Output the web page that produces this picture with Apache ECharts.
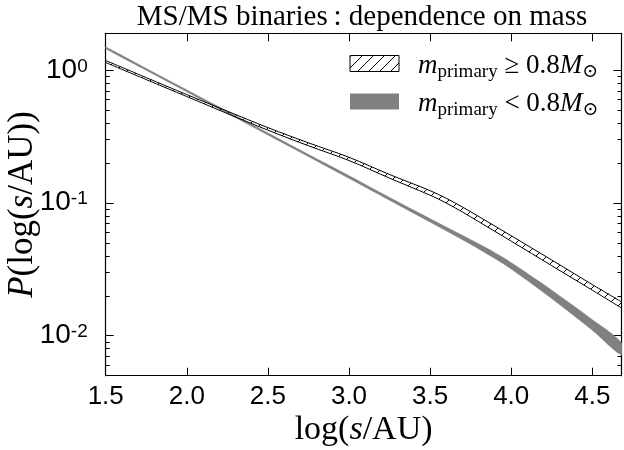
<!DOCTYPE html>
<html>
<head>
<meta charset="utf-8">
<script src="https://cdn.jsdelivr.net/npm/echarts@6/dist/echarts.min.js"></script>
<style>
  html, body { margin: 0; padding: 0; background: #fff; }
  #chart { width: 624px; height: 450px; }
</style>
</head>
<body>
<div id="chart"></div>
<script>
// log10(s/AU) sample points and band edges of P(log s)
// Primaries of 0.8 Msun and above (hatched band)
const xHigh     = [1.5, 1.75, 2.0, 2.25, 2.5, 2.75, 3.0, 3.25, 3.5, 3.6, 3.7, 3.8, 4.0, 4.25, 4.5, 4.68];
const highLower = [1.145, 0.851, 0.634, 0.472, 0.354, 0.270, 0.209, 0.154, 0.1145, 0.0999, 0.0855, 0.0723, 0.0516, 0.0337, 0.02205, 0.01618];
const highUpper = [1.185, 0.881, 0.656, 0.492, 0.370, 0.284, 0.221, 0.164, 0.1239, 0.1085, 0.0932, 0.0791, 0.0567, 0.0372, 0.0243, 0.0180];

// Primaries below 0.8 Msun (grey band)
const xLow     = [1.5, 1.75, 2.0, 2.25, 2.5, 2.75, 3.0, 3.25, 3.5, 3.75, 3.85, 3.95, 4.05, 4.15, 4.25, 4.5, 4.68];
const lowLower = [1.458, 1.002, 0.689, 0.474, 0.326, 0.224, 0.1535, 0.105, 0.0719, 0.0489, 0.04149, 0.03498, 0.02885, 0.02352, 0.01908, 0.01102, 0.00718];
const lowUpper = [1.500, 1.031, 0.711, 0.490, 0.337, 0.232, 0.1605, 0.110, 0.0761, 0.0529, 0.04571, 0.03878, 0.03235, 0.02672, 0.02199, 0.01319, 0.00883];

// Axis ranges and ticks
const xRange = [1.5, 4.68];
const yRange = [0.005, 1.9];
const xTickValues = [1.5, 2.0, 2.5, 3.0, 3.5, 4.0, 4.5];
const yMajorTicks = [0.01, 0.1, 1];
const yMinorTicks = [0.006, 0.007, 0.008, 0.009,
                     0.02, 0.03, 0.04, 0.05, 0.06, 0.07, 0.08, 0.09,
                     0.2, 0.3, 0.4, 0.5, 0.6, 0.7, 0.8, 0.9];

const titleText = 'MS/MS binaries\u2009: dependence on mass';
const legendLabels = [
  '{i|m}{sub|primary}{r| \u2265 0.8}{i|M}{sub|\u2299}',
  '{i|m}{sub|primary}{r| < 0.8}{i|M}{sub|\u2299}'
];

const SERIF = '"Liberation Serif", "DejaVu Serif", serif';
const SANS = '"Liberation Sans", Arial, sans-serif';
const GREY = '#808080';
const CURVE_SMOOTH = 0.35;

// Diagonal "////" hatch tile
function hatchTile(size) {
  const c = document.createElement('canvas');
  c.width = size; c.height = size;
  const ctx = c.getContext('2d');
  ctx.strokeStyle = '#000';
  ctx.lineWidth = 1;
  ctx.beginPath();
  ctx.moveTo(0, size); ctx.lineTo(size, 0);
  ctx.moveTo(-2, 2); ctx.lineTo(2, -2);
  ctx.moveTo(size - 2, size + 2); ctx.lineTo(size + 2, size - 2);
  ctx.stroke();
  return c;
}
const hatch = { image: hatchTile(11), repeat: 'repeat' };

function bandSeries(name, xs, lo, hi, fill, edge) {
  return {
    type: 'custom',
    name: name,
    coordinateSystem: 'cartesian2d',
    xAxisIndex: 0,
    yAxisIndex: 0,
    clip: true,
    silent: true,
    data: xs.map((x, i) => [x, lo[i], hi[i]]),
    encode: { x: 0, y: [1, 2] },
    renderItem: function (params, api) {
      if (params.dataIndex !== 0) return null;
      const top = xs.map((x, i) => api.coord([x, hi[i]]));
      const bot = xs.map((x, i) => api.coord([x, lo[i]]));
      const children = [{
        type: 'polygon',
        shape: { points: top.concat(bot.slice().reverse()), smooth: CURVE_SMOOTH },
        style: edge ? { fill: fill } : { fill: fill, stroke: fill, lineWidth: 0.6 }
      }];
      if (edge) {
        children.push({ type: 'polyline', shape: { points: top, smooth: CURVE_SMOOTH },
                        style: { fill: null, stroke: edge, lineWidth: 1 } });
        children.push({ type: 'polyline', shape: { points: bot, smooth: CURVE_SMOOTH },
                        style: { fill: null, stroke: edge, lineWidth: 1 } });
      }
      return { type: 'group', children: children };
    }
  };
}

const frameLine = { show: true, lineStyle: { color: '#000', width: 1.2 } };

function yAxisDef(position, ticks, len, withLabels, withLine) {
  return {
    type: 'log',
    logBase: 10,
    position: position,
    min: yRange[0],
    max: yRange[1],
    splitLine: { show: false },
    axisLine: withLine ? frameLine : { show: false },
    axisTick: { show: true, inside: true, length: len, customValues: ticks,
                lineStyle: { color: '#000', width: 1 } },
    minorTick: { show: false },
    axisLabel: withLabels ? {
      show: true,
      customValues: ticks,
      margin: 18,
      formatter: function (v) {
        const n = Math.round(Math.log10(v));
        return '{b|10}{s|' + n + '}';
      },
      rich: {
        b: { fontFamily: SANS, fontSize: 28, color: '#000', lineHeight: 27, verticalAlign: 'bottom' },
        s: { fontFamily: SANS, fontSize: 19, color: '#000', lineHeight: 19, padding: [0, 0, 15, 0], verticalAlign: 'top' }
      }
    } : { show: false },
    name: withLabels ? '{i|P}{r|(log(}{i|s}{r|/AU))}' : '',
    nameLocation: 'middle',
    nameRotate: 90,
    nameGap: 65,
    nameMoveOverlap: false,
    nameTextStyle: {
      rich: {
        i: { fontFamily: SERIF, fontStyle: 'italic', fontSize: 35, color: '#000' },
        r: { fontFamily: SERIF, fontSize: 35, color: '#000' }
      }
    }
  };
}

function xAxisDef(position, withLabels) {
  return {
    type: 'value',
    position: position,
    min: xRange[0],
    max: xRange[1],
    splitLine: { show: false },
    axisLine: frameLine,
    axisTick: { show: true, inside: true, length: 8, customValues: xTickValues,
                lineStyle: { color: '#000', width: 1 } },
    axisLabel: withLabels ? {
      show: true,
      customValues: xTickValues,
      margin: 8,
      fontFamily: SANS,
      fontSize: 26,
      color: '#000',
      formatter: v => v.toFixed(1)
    } : { show: false },
    name: withLabels ? '{r|log(}{i|s}{r|/AU)}' : '',
    nameLocation: 'middle',
    nameGap: 37,
    nameMoveOverlap: false,
    nameTextStyle: {
      rich: {
        i: { fontFamily: SERIF, fontStyle: 'italic', fontSize: 34, color: '#000' },
        r: { fontFamily: SERIF, fontSize: 34, color: '#000' }
      }
    }
  };
}

const legendRich = {
  i: { fontFamily: SERIF, fontStyle: 'italic', fontSize: 27, lineHeight: 32, fill: '#000' },
  r: { fontFamily: SERIF, fontSize: 27, lineHeight: 32, fill: '#000' },
  sub: { fontFamily: SERIF, fontSize: 19, lineHeight: 19, verticalAlign: 'bottom', fill: '#000' }
};

const chart = echarts.init(document.getElementById('chart'), null, { renderer: 'canvas' });
chart.setOption({
  animation: false,
  backgroundColor: '#fff',
  title: {
    text: titleText,
    left: 362,
    top: 3,
    padding: 0,
    textAlign: 'center',
    textStyle: { fontFamily: SERIF, fontSize: 29, fontWeight: 'normal', color: '#000' }
  },
  grid: { left: 105.7, right: 2.5, top: 33.3, bottom: 74.3, containLabel: false, outerBoundsMode: 'none' },
  xAxis: [xAxisDef('bottom', true), xAxisDef('top', false)],
  yAxis: [
    yAxisDef('left', yMajorTicks, 8, true, true),
    yAxisDef('left', yMinorTicks, 4, false, false),
    yAxisDef('right', yMajorTicks, 8, false, true),
    yAxisDef('right', yMinorTicks, 4, false, false)
  ],
  graphic: [
    { type: 'rect', shape: { x: 350, y: 55.5, width: 49, height: 16 },
      style: { fill: hatch, stroke: '#000', lineWidth: 1 } },
    { type: 'rect', shape: { x: 350, y: 93.5, width: 49, height: 16 },
      style: { fill: GREY } },
    { type: 'text', x: 418, y: 66,
      style: { text: legendLabels[0], rich: legendRich, verticalAlign: 'middle', align: 'left' } },
    { type: 'text', x: 418, y: 104,
      style: { text: legendLabels[1], rich: legendRich, verticalAlign: 'middle', align: 'left' } }
  ],
  series: [
    bandSeries('m_primary < 0.8 Msun', xLow, lowLower, lowUpper, GREY, null),
    bandSeries('m_primary >= 0.8 Msun', xHigh, highLower, highUpper, hatch, '#000')
  ]
});
</script>
</body>
</html>
